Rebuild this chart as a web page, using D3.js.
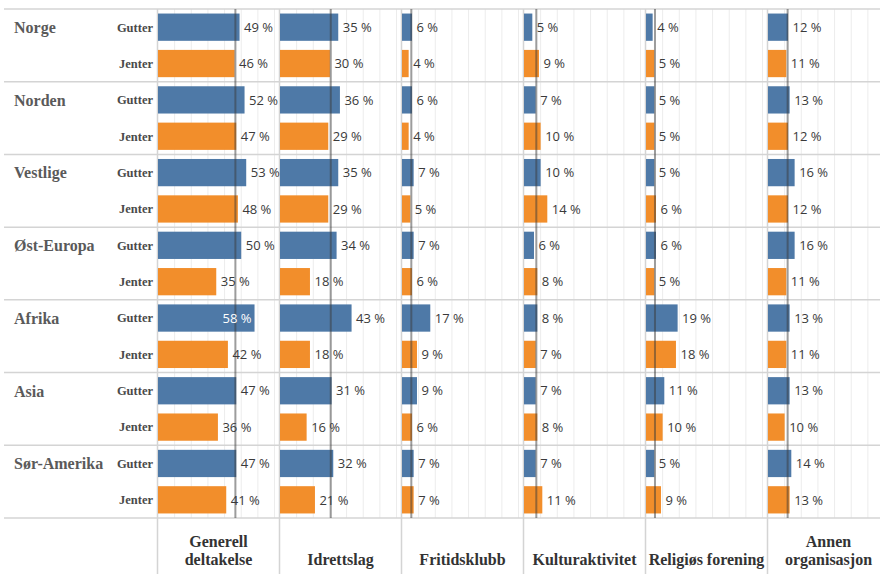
<!DOCTYPE html>
<html>
<head>
<meta charset="utf-8">
<script src="https://cdn.jsdelivr.net/npm/d3@7"></script>
<style>
  html, body { margin: 0; padding: 0; background: #fff; }
  svg { display: block; }
</style>
</head>
<body>
<svg id="chart" width="880" height="574"></svg>
<script>
// ---- DATA ----
const regions = ["Norge", "Norden", "Vestlige", "Øst-Europa", "Afrika", "Asia", "Sør-Amerika"];
const genders = ["Gutter", "Jenter"];
const measures = ["Generell deltakelse", "Idrettslag", "Fritidsklubb", "Kulturaktivitet", "Religiøs forening", "Annen organisasjon"];
const measureLabelLines = [["Generell", "deltakelse"], ["Idrettslag"], ["Fritidsklubb"], ["Kulturaktivitet"], ["Religiøs forening"], ["Annen", "organisasjon"]];

// values per region: [Gutter, Jenter] for each measure
const generell     = { Norge: [49, 46], Norden: [52, 47], Vestlige: [53, 48], "Øst-Europa": [50, 35], Afrika: [58, 42], Asia: [47, 36], "Sør-Amerika": [47, 41] };
const idrettslag   = { Norge: [35, 30], Norden: [36, 29], Vestlige: [35, 29], "Øst-Europa": [34, 18], Afrika: [43, 18], Asia: [31, 16], "Sør-Amerika": [32, 21] };
const fritidsklubb = { Norge: [6, 4],   Norden: [6, 4],   Vestlige: [7, 5],   "Øst-Europa": [7, 6],   Afrika: [17, 9],  Asia: [9, 6],   "Sør-Amerika": [7, 7] };
const kultur       = { Norge: [5, 9],   Norden: [7, 10],  Vestlige: [10, 14], "Øst-Europa": [6, 8],   Afrika: [8, 7],   Asia: [7, 8],   "Sør-Amerika": [7, 11] };
const religios     = { Norge: [4, 5],   Norden: [5, 5],   Vestlige: [5, 6],   "Øst-Europa": [6, 5],   Afrika: [19, 18], Asia: [11, 10], "Sør-Amerika": [5, 9] };
const annen        = { Norge: [12, 11], Norden: [13, 12], Vestlige: [16, 12], "Øst-Europa": [16, 11], Afrika: [13, 11], Asia: [13, 10], "Sør-Amerika": [14, 13] };
const seriesByMeasure = [generell, idrettslag, fritidsklubb, kultur, religios, annen];

// reference (average) line per measure
const referenceValues = [46.5, 30.5, 5.6, 7.4, 5.4, 11.8];
const gridTicks = [10, 20, 30, 40, 50, 60, 70];

// ---- LAYOUT ----
const svg = d3.select("#chart");
const W = 880, H = 574;
const panelX0 = 157.5, panelW = 122;
const topY = 9, bottomY = 518;
const colors = { Gutter: "#4e79a7", Jenter: "#f28e2b" };
const lineColor = "#d4d4d4";

const yGroup = d3.scaleBand().domain(regions).range([topY, bottomY]);
const yRow = d3.scaleBand().domain(genders).range([0, yGroup.bandwidth()]).paddingInner(0.25).paddingOuter(0.125);
const x = d3.scaleLinear().domain([0, 73]).range([0, 121.5]);
const panelScale = d3.scaleBand().domain(measures).range([panelX0, panelX0 + panelW * measures.length]);

const serif = "'Liberation Serif', 'Times New Roman', serif";
const sans = "'Open Sans', 'Noto Sans', sans-serif";

// grid lines
measures.forEach((m, i) => {
  const px = panelScale(m) + 0.5;
  svg.append("g").selectAll("line").data(gridTicks).join("line")
    .attr("x1", d => px + x(d)).attr("x2", d => px + x(d))
    .attr("y1", topY).attr("y2", bottomY)
    .attr("stroke", "#ececec").attr("stroke-width", 1);
});

// horizontal separators
svg.append("g").selectAll("line").data(regions.map(r => yGroup(r)).concat([bottomY])).join("line")
  .attr("x1", 4).attr("x2", W)
  .attr("y1", d => d).attr("y2", d => d)
  .attr("stroke", lineColor).attr("stroke-width", 1.5);

// vertical panel separators
svg.append("g").selectAll("line").data(measures).join("line")
  .attr("x1", d => panelScale(d)).attr("x2", d => panelScale(d))
  .attr("y1", topY).attr("y2", H)
  .attr("stroke", lineColor).attr("stroke-width", 1.5);

// bars
measures.forEach((m, i) => {
  const px = panelScale(m) + 0.5;
  const data = [];
  regions.forEach(r => genders.forEach((g, gi) => data.push({ r, g, v: seriesByMeasure[i][r][gi] })));
  const gEl = svg.append("g");
  gEl.selectAll("rect").data(data).join("rect")
    .attr("x", px)
    .attr("y", d => yGroup(d.r) + yRow(d.g))
    .attr("width", d => x(d.v))
    .attr("height", yRow.bandwidth())
    .attr("fill", d => colors[d.g]);

  // reference line
  svg.append("line")
    .attr("x1", px + x(referenceValues[i])).attr("x2", px + x(referenceValues[i]))
    .attr("y1", topY).attr("y2", bottomY)
    .attr("stroke", "#3a3a3a").attr("stroke-opacity", 0.5).attr("stroke-width", 2);

  // labels
  svg.append("g").selectAll("text").data(data).join("text")
    .attr("x", d => d.v > 55 ? px + x(d.v) - 3 : px + x(d.v) + 4.5)
    .attr("y", d => yGroup(d.r) + yRow(d.g) + yRow.bandwidth() / 2)
    .attr("dy", "0.36em")
    .attr("text-anchor", d => d.v > 55 ? "end" : "start")
    .attr("font-family", sans).attr("font-size", 13)
    .attr("fill", d => d.v > 55 ? "#ffffff" : "#3a3a3a")
    .text(d => d.v + " %");
});

// region labels
svg.append("g").selectAll("text").data(regions).join("text")
  .attr("x", 14)
  .attr("y", r => yGroup(r) + yRow("Gutter") + yRow.bandwidth() / 2)
  .attr("dy", "0.36em")
  .attr("font-family", serif).attr("font-weight", "bold").attr("font-size", 16)
  .attr("fill", "#5a5a5a")
  .text(r => r);

// gender labels
const gl = [];
regions.forEach(r => genders.forEach(g => gl.push({ r, g })));
svg.append("g").selectAll("text").data(gl).join("text")
  .attr("x", 153)
  .attr("y", d => yGroup(d.r) + yRow(d.g) + yRow.bandwidth() / 2)
  .attr("dy", "0.35em")
  .attr("text-anchor", "end")
  .attr("font-family", serif).attr("font-weight", "bold").attr("font-size", 12.5)
  .attr("fill", "#4a4a4a")
  .text(d => d.g);

// bottom measure labels
measures.forEach((m, i) => {
  const cx = panelScale(m) + panelW / 2;
  const lines = measureLabelLines[i];
  const t = svg.append("text")
    .attr("text-anchor", "middle")
    .attr("font-family", serif).attr("font-weight", "bold").attr("font-size", 16)
    .attr("fill", "#333");
  lines.forEach((ln, k) => {
    t.append("tspan").attr("x", cx).attr("y", 565 - (lines.length - 1 - k) * 18.5).text(ln);
  });
});
</script>
</body>
</html>
